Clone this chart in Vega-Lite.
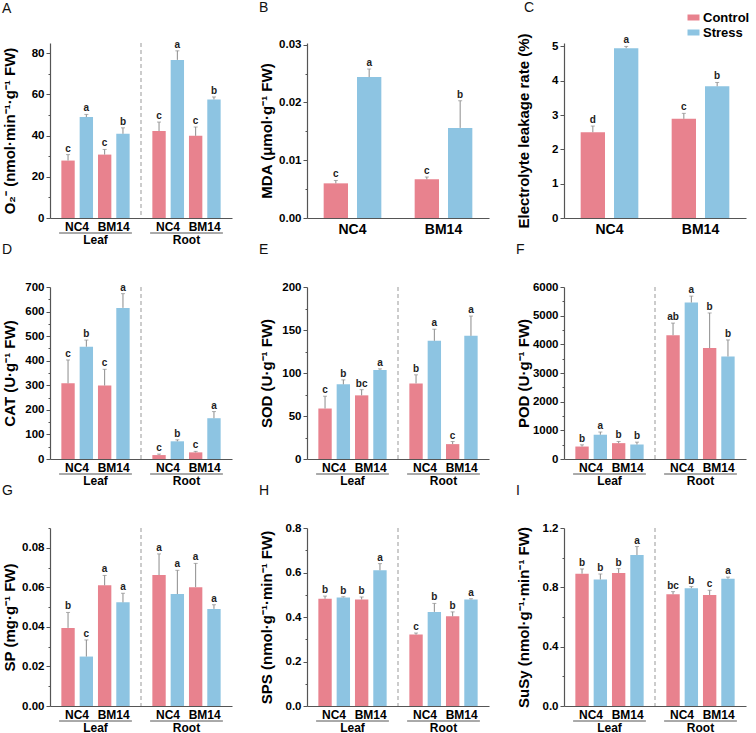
{
"$schema": "https://vega.github.io/schema/vega-lite/v6.json",
"background": "white",
"padding": {"left": 2, "top": 0, "right": 0, "bottom": 0},
"columns": 3,
"align": "each",
"bounds": "flush",
"spacing": {"row": 69, "column": 75},
"resolve": {"scale": {"color": "independent", "xOffset": "independent"}, "legend": {"color": "independent"}},
"config": {
  "view": {"stroke": null},
  "font": "Liberation Sans",
  "title": {"anchor": "start", "frame": "bounds", "fontSize": 14, "fontWeight": "normal", "offset": 24, "font": "Liberation Sans", "color": "#111"},
  "axis": {"labelFont": "Liberation Sans", "titleFont": "Liberation Sans", "labelFontWeight": "bold", "titleFontWeight": "bold", "labelColor": "#000", "titleColor": "#000", "domainColor": "#555", "tickColor": "#555", "grid": false, "domainWidth": 1.2, "labelOverlap": false},
  "axisY": {"titleFontSize": 15, "labelFontSize": 11.5, "titlePadding": 4, "minExtent": 29, "maxExtent": 29, "labelPadding": 2, "labelOverlap": false, "tickCount": 100},
  "axisX": {"title": null, "ticks": false, "labelAngle": 0, "labelFontSize": 12, "labelPadding": 16}
},
"datasets": {"d": [
{"p":"A","t":"Leaf","g":"NC4","tr":"Control","k":"NC4 Control","m":27.9,"u":30.8,"l":"c"},
{"p":"A","t":"Leaf","g":"NC4","tr":"Stress","k":"NC4 Stress","m":49.0,"u":50.3,"l":"a"},
{"p":"A","t":"Leaf","g":"BM14","tr":"Control","k":"BM14 Control","m":30.8,"u":33.3,"l":"c"},
{"p":"A","t":"Leaf","g":"BM14","tr":"Stress","k":"BM14 Stress","m":40.9,"u":43.8,"l":"b"},
{"p":"A","t":"Root","g":"NC4","tr":"Control","k":"NC4 Control","m":42.2,"u":46.6,"l":"c"},
{"p":"A","t":"Root","g":"NC4","tr":"Stress","k":"NC4 Stress","m":76.8,"u":81.2,"l":"a"},
{"p":"A","t":"Root","g":"BM14","tr":"Control","k":"BM14 Control","m":39.9,"u":44.2,"l":"c"},
{"p":"A","t":"Root","g":"BM14","tr":"Stress","k":"BM14 Stress","m":57.6,"u":58.8,"l":"b"},
{"p":"B","g":"NC4","tr":"Control","m":0.0060,"u":0.0065,"l":"c"},
{"p":"B","g":"NC4","tr":"Stress","m":0.0244,"u":0.0258,"l":"a"},
{"p":"B","g":"BM14","tr":"Control","m":0.0067,"u":0.0071,"l":"c"},
{"p":"B","g":"BM14","tr":"Stress","m":0.0156,"u":0.0203,"l":"b"},
{"p":"C","g":"NC4","tr":"Control","m":2.50,"u":2.68,"l":"d"},
{"p":"C","g":"NC4","tr":"Stress","m":4.95,"u":5.00,"l":"a"},
{"p":"C","g":"BM14","tr":"Control","m":2.89,"u":3.05,"l":"c"},
{"p":"C","g":"BM14","tr":"Stress","m":3.84,"u":3.95,"l":"b"},
{"p":"D","t":"Leaf","g":"NC4","tr":"Control","k":"NC4 Control","m":308,"u":403,"l":"c"},
{"p":"D","t":"Leaf","g":"NC4","tr":"Stress","k":"NC4 Stress","m":457,"u":484,"l":"b"},
{"p":"D","t":"Leaf","g":"BM14","tr":"Control","k":"BM14 Control","m":299,"u":365,"l":"c"},
{"p":"D","t":"Leaf","g":"BM14","tr":"Stress","k":"BM14 Stress","m":615,"u":673,"l":"a"},
{"p":"D","t":"Root","g":"NC4","tr":"Control","k":"NC4 Control","m":16,"u":20,"l":"c"},
{"p":"D","t":"Root","g":"NC4","tr":"Stress","k":"NC4 Stress","m":72,"u":78,"l":"b"},
{"p":"D","t":"Root","g":"BM14","tr":"Control","k":"BM14 Control","m":27,"u":31,"l":"c"},
{"p":"D","t":"Root","g":"BM14","tr":"Stress","k":"BM14 Stress","m":166,"u":193,"l":"a"},
{"p":"E","t":"Leaf","g":"NC4","tr":"Control","k":"NC4 Control","m":58.7,"u":73,"l":"c"},
{"p":"E","t":"Leaf","g":"NC4","tr":"Stress","k":"NC4 Stress","m":86.8,"u":92,"l":"b"},
{"p":"E","t":"Leaf","g":"BM14","tr":"Control","k":"BM14 Control","m":74,"u":80.6,"l":"bc"},
{"p":"E","t":"Leaf","g":"BM14","tr":"Stress","k":"BM14 Stress","m":103.6,"u":104.8,"l":"a"},
{"p":"E","t":"Root","g":"NC4","tr":"Control","k":"NC4 Control","m":87.9,"u":97.9,"l":"b"},
{"p":"E","t":"Root","g":"NC4","tr":"Stress","k":"NC4 Stress","m":137.4,"u":150.9,"l":"a"},
{"p":"E","t":"Root","g":"BM14","tr":"Control","k":"BM14 Control","m":17.3,"u":20.3,"l":"c"},
{"p":"E","t":"Root","g":"BM14","tr":"Stress","k":"BM14 Stress","m":143.2,"u":166.2,"l":"a"},
{"p":"F","t":"Leaf","g":"NC4","tr":"Control","k":"NC4 Control","m":435,"u":494,"l":"b"},
{"p":"F","t":"Leaf","g":"NC4","tr":"Stress","k":"NC4 Stress","m":847,"u":941,"l":"a"},
{"p":"F","t":"Leaf","g":"BM14","tr":"Control","k":"BM14 Control","m":553,"u":612,"l":"b"},
{"p":"F","t":"Leaf","g":"BM14","tr":"Stress","k":"BM14 Stress","m":506,"u":588,"l":"b"},
{"p":"F","t":"Root","g":"NC4","tr":"Control","k":"NC4 Control","m":4318,"u":4741,"l":"ab"},
{"p":"F","t":"Root","g":"NC4","tr":"Stress","k":"NC4 Stress","m":5459,"u":5682,"l":"a"},
{"p":"F","t":"Root","g":"BM14","tr":"Control","k":"BM14 Control","m":3871,"u":5094,"l":"b"},
{"p":"F","t":"Root","g":"BM14","tr":"Stress","k":"BM14 Stress","m":3576,"u":4153,"l":"b"},
{"p":"G","t":"Leaf","g":"NC4","tr":"Control","k":"NC4 Control","m":0.0395,"u":0.0473,"l":"b"},
{"p":"G","t":"Leaf","g":"NC4","tr":"Stress","k":"NC4 Stress","m":0.0250,"u":0.0334,"l":"c"},
{"p":"G","t":"Leaf","g":"BM14","tr":"Control","k":"BM14 Control","m":0.0610,"u":0.0660,"l":"a"},
{"p":"G","t":"Leaf","g":"BM14","tr":"Stress","k":"BM14 Stress","m":0.0524,"u":0.0570,"l":"a"},
{"p":"G","t":"Root","g":"NC4","tr":"Control","k":"NC4 Control","m":0.0662,"u":0.0769,"l":"a"},
{"p":"G","t":"Root","g":"NC4","tr":"Stress","k":"NC4 Stress","m":0.0566,"u":0.0686,"l":"a"},
{"p":"G","t":"Root","g":"BM14","tr":"Control","k":"BM14 Control","m":0.0601,"u":0.0721,"l":"a"},
{"p":"G","t":"Root","g":"BM14","tr":"Stress","k":"BM14 Stress","m":0.0491,"u":0.0512,"l":"a"},
{"p":"H","t":"Leaf","g":"NC4","tr":"Control","k":"NC4 Control","m":0.482,"u":0.494,"l":"b"},
{"p":"H","t":"Leaf","g":"NC4","tr":"Stress","k":"NC4 Stress","m":0.488,"u":0.491,"l":"b"},
{"p":"H","t":"Leaf","g":"BM14","tr":"Control","k":"BM14 Control","m":0.479,"u":0.490,"l":"b"},
{"p":"H","t":"Leaf","g":"BM14","tr":"Stress","k":"BM14 Stress","m":0.610,"u":0.640,"l":"a"},
{"p":"H","t":"Root","g":"NC4","tr":"Control","k":"NC4 Control","m":0.321,"u":0.328,"l":"c"},
{"p":"H","t":"Root","g":"NC4","tr":"Stress","k":"NC4 Stress","m":0.423,"u":0.461,"l":"b"},
{"p":"H","t":"Root","g":"BM14","tr":"Control","k":"BM14 Control","m":0.403,"u":0.423,"l":"b"},
{"p":"H","t":"Root","g":"BM14","tr":"Stress","k":"BM14 Stress","m":0.479,"u":0.482,"l":"a"},
{"p":"I","t":"Leaf","g":"NC4","tr":"Control","k":"NC4 Control","m":0.892,"u":0.924,"l":"b"},
{"p":"I","t":"Leaf","g":"NC4","tr":"Stress","k":"NC4 Stress","m":0.853,"u":0.890,"l":"b"},
{"p":"I","t":"Leaf","g":"BM14","tr":"Control","k":"BM14 Control","m":0.897,"u":0.926,"l":"b"},
{"p":"I","t":"Leaf","g":"BM14","tr":"Stress","k":"BM14 Stress","m":1.018,"u":1.075,"l":"a"},
{"p":"I","t":"Root","g":"NC4","tr":"Control","k":"NC4 Control","m":0.753,"u":0.771,"l":"bc"},
{"p":"I","t":"Root","g":"NC4","tr":"Stress","k":"NC4 Stress","m":0.794,"u":0.805,"l":"b"},
{"p":"I","t":"Root","g":"BM14","tr":"Control","k":"BM14 Control","m":0.748,"u":0.780,"l":"c"},
{"p":"I","t":"Root","g":"BM14","tr":"Stress","k":"BM14 Stress","m":0.858,"u":0.869,"l":"a"}
]},
"concat": [
{
 "width": 182, "height": 175, "title": {"text": "A"},
 "data": {"name": "d"}, "transform": [{"filter": "datum.p == 'A'"}],
 "layer": [
  {"mark": {"type": "bar"}, "encoding": {
    "x": {"field": "t", "type": "nominal", "scale": {"domain": ["Leaf","Root"], "paddingInner": 0, "paddingOuter": 0}},
    "xOffset": {"field": "k", "type": "nominal", "scale": {"domain": ["NC4 Control","NC4 Stress","BM14 Control","BM14 Stress"], "paddingInner": 0.27, "paddingOuter": 0.62}},
    "y": {"field": "m", "type": "quantitative", "scale": {"domain": [0, 85], "nice": false},
      "axis": {"title": "O₂⁻ (nmol·min⁻¹·g⁻¹ FW)", "tickCount": 100, "labelOverlap": false, "values": [0,10,20,30,40,50,60,70,80], "format": "d", "labelExpr": "datum.value % 20 == 0 ? datum.label : ''", "tickSize": {"condition": {"test": "datum.value % 20 == 0", "value": 4}, "value": 2}}},
    "color": {"field": "tr", "type": "nominal", "scale": {"domain": ["Control","Stress"], "range": ["#E8828E","#8DC4E2"]}, "legend": null}}},
  {"mark": {"type": "rule", "color": "#8c8c8c"}, "encoding": {"x": {"field": "t", "type": "nominal"}, "xOffset": {"field": "k", "type": "nominal"}, "y": {"field": "m", "type": "quantitative"}, "y2": {"field": "u"}}},
  {"mark": {"type": "tick", "orient": "horizontal", "size": 4, "thickness": 1, "color": "#8c8c8c"}, "encoding": {"x": {"field": "t", "type": "nominal"}, "xOffset": {"field": "k", "type": "nominal"}, "y": {"field": "u", "type": "quantitative"}}},
  {"mark": {"type": "text", "dy": -3, "baseline": "alphabetic", "fontSize": 10, "fontWeight": "bold", "color": "#222"}, "encoding": {"x": {"field": "t", "type": "nominal"}, "xOffset": {"field": "k", "type": "nominal"}, "y": {"field": "u", "type": "quantitative"}, "text": {"field": "l"}}},
  {"transform": [{"filter": "datum.k == 'NC4 Control' && datum.t == 'Leaf'"}], "mark": {"type": "rule", "strokeDash": [4,3], "color": "#999"}, "encoding": {"x": {"datum": "Root", "type": "nominal", "bandPosition": 0}}},
  {"transform": [{"filter": "datum.tr == 'Control'"}], "mark": {"type": "text", "dx": 9, "dy": 13, "baseline": "alphabetic", "fontSize": 12, "fontWeight": "bold"}, "encoding": {"x": {"field": "t", "type": "nominal"}, "xOffset": {"field": "k", "type": "nominal"}, "y": {"datum": 0}, "text": {"field": "g"}}},
  {"transform": [{"filter": "datum.k == 'NC4 Control'"}], "mark": {"type": "rule", "yOffset": 15, "color": "#555"}, "encoding": {"x": {"field": "t", "type": "nominal", "bandPosition": 0.1}, "x2": {"field": "t", "bandPosition": 0.9}, "y": {"datum": 0}}}
 ]
},
{
 "width": 182, "height": 175, "title": {"text": "B"},
 "data": {"name": "d"}, "transform": [{"filter": "datum.p == 'B'"}],
 "layer": [
  {"mark": {"type": "bar"}, "encoding": {
    "x": {"field": "g", "type": "nominal", "scale": {"domain": ["NC4","BM14"], "paddingInner": 0, "paddingOuter": 0}, "axis": {"labelFontSize": 14, "labelPadding": 4}},
    "xOffset": {"field": "tr", "type": "nominal", "scale": {"domain": ["Control","Stress"], "paddingInner": 0.27, "paddingOuter": 0.5}},
    "y": {"field": "m", "type": "quantitative", "scale": {"domain": [0, 0.0303], "nice": false},
      "axis": {"title": "MDA (μmol·g⁻¹ FW)", "tickCount": 100, "labelOverlap": false, "values": [0,0.005,0.01,0.015,0.02,0.025,0.03], "format": ".2f", "labelExpr": "round(datum.value*1000) % 10 == 0 ? datum.label : ''", "tickSize": {"condition": {"test": "round(datum.value*1000) % 10 == 0", "value": 4}, "value": 2}}},
    "color": {"field": "tr", "type": "nominal", "scale": {"domain": ["Control","Stress"], "range": ["#E8828E","#8DC4E2"]}, "legend": null}}},
  {"mark": {"type": "rule", "color": "#8c8c8c"}, "encoding": {"x": {"field": "g", "type": "nominal"}, "xOffset": {"field": "tr", "type": "nominal"}, "y": {"field": "m", "type": "quantitative"}, "y2": {"field": "u"}}},
  {"mark": {"type": "tick", "orient": "horizontal", "size": 4, "thickness": 1, "color": "#8c8c8c"}, "encoding": {"x": {"field": "g", "type": "nominal"}, "xOffset": {"field": "tr", "type": "nominal"}, "y": {"field": "u", "type": "quantitative"}}},
  {"mark": {"type": "text", "dy": -3, "baseline": "alphabetic", "fontSize": 10, "fontWeight": "bold", "color": "#222"}, "encoding": {"x": {"field": "g", "type": "nominal"}, "xOffset": {"field": "tr", "type": "nominal"}, "y": {"field": "u", "type": "quantitative"}, "text": {"field": "l"}}}
 ]
},
{
 "width": 182, "height": 175, "title": {"text": "C", "offset": -4, "dx": 8},
 "data": {"name": "d"}, "transform": [{"filter": "datum.p == 'C'"}],
 "layer": [
  {"mark": {"type": "bar"}, "encoding": {
    "x": {"field": "g", "type": "nominal", "scale": {"domain": ["NC4","BM14"], "paddingInner": 0, "paddingOuter": 0}, "axis": {"labelFontSize": 14, "labelPadding": 4}},
    "xOffset": {"field": "tr", "type": "nominal", "scale": {"domain": ["Control","Stress"], "paddingInner": 0.27, "paddingOuter": 0.5}},
    "y": {"field": "m", "type": "quantitative", "scale": {"domain": [0, 5.1], "nice": false},
      "axis": {"title": "Electrolyte leakage rate (%)", "tickCount": 100, "labelOverlap": false, "values": [0,0.5,1,1.5,2,2.5,3,3.5,4,4.5,5], "format": "d", "labelExpr": "datum.value % 1 == 0 ? datum.label : ''", "tickSize": {"condition": {"test": "datum.value % 1 == 0", "value": 4}, "value": 2}}},
    "color": {"field": "tr", "type": "nominal", "scale": {"domain": ["Control","Stress"], "range": ["#E8828E","#8DC4E2"]},
      "legend": {"title": null, "orient": "none", "legendX": 123, "legendY": -32, "symbolType": "M-1,-0.5H1V0.5H-1Z", "symbolSize": 144, "symbolStrokeWidth": 0, "labelFontSize": 13, "labelFontWeight": "bold", "labelFont": "Liberation Sans", "labelColor": "#000", "rowPadding": 1, "labelOffset": 3}}}},
  {"mark": {"type": "rule", "color": "#8c8c8c"}, "encoding": {"x": {"field": "g", "type": "nominal"}, "xOffset": {"field": "tr", "type": "nominal"}, "y": {"field": "m", "type": "quantitative"}, "y2": {"field": "u"}}},
  {"mark": {"type": "tick", "orient": "horizontal", "size": 4, "thickness": 1, "color": "#8c8c8c"}, "encoding": {"x": {"field": "g", "type": "nominal"}, "xOffset": {"field": "tr", "type": "nominal"}, "y": {"field": "u", "type": "quantitative"}}},
  {"mark": {"type": "text", "dy": -3, "baseline": "alphabetic", "fontSize": 10, "fontWeight": "bold", "color": "#222"}, "encoding": {"x": {"field": "g", "type": "nominal"}, "xOffset": {"field": "tr", "type": "nominal"}, "y": {"field": "u", "type": "quantitative"}, "text": {"field": "l"}}}
 ]
},
{
 "width": 182, "height": 172, "title": {"text": "D"},
 "data": {"name": "d"}, "transform": [{"filter": "datum.p == 'D'"}],
 "layer": [
  {"mark": {"type": "bar"}, "encoding": {
    "x": {"field": "t", "type": "nominal", "scale": {"domain": ["Leaf","Root"], "paddingInner": 0, "paddingOuter": 0}},
    "xOffset": {"field": "k", "type": "nominal", "scale": {"domain": ["NC4 Control","NC4 Stress","BM14 Control","BM14 Stress"], "paddingInner": 0.27, "paddingOuter": 0.62}},
    "y": {"field": "m", "type": "quantitative", "scale": {"domain": [0, 700], "nice": false},
      "axis": {"title": "CAT (U·g⁻¹ FW)", "tickCount": 100, "labelOverlap": false, "values": [0,50,100,150,200,250,300,350,400,450,500,550,600,650,700], "format": "d", "labelExpr": "datum.value % 100 == 0 ? datum.label : ''", "tickSize": {"condition": {"test": "datum.value % 100 == 0", "value": 4}, "value": 2}}},
    "color": {"field": "tr", "type": "nominal", "scale": {"domain": ["Control","Stress"], "range": ["#E8828E","#8DC4E2"]}, "legend": null}}},
  {"mark": {"type": "rule", "color": "#8c8c8c"}, "encoding": {"x": {"field": "t", "type": "nominal"}, "xOffset": {"field": "k", "type": "nominal"}, "y": {"field": "m", "type": "quantitative"}, "y2": {"field": "u"}}},
  {"mark": {"type": "tick", "orient": "horizontal", "size": 4, "thickness": 1, "color": "#8c8c8c"}, "encoding": {"x": {"field": "t", "type": "nominal"}, "xOffset": {"field": "k", "type": "nominal"}, "y": {"field": "u", "type": "quantitative"}}},
  {"mark": {"type": "text", "dy": -3, "baseline": "alphabetic", "fontSize": 10, "fontWeight": "bold", "color": "#222"}, "encoding": {"x": {"field": "t", "type": "nominal"}, "xOffset": {"field": "k", "type": "nominal"}, "y": {"field": "u", "type": "quantitative"}, "text": {"field": "l"}}},
  {"transform": [{"filter": "datum.k == 'NC4 Control' && datum.t == 'Leaf'"}], "mark": {"type": "rule", "strokeDash": [4,3], "color": "#999"}, "encoding": {"x": {"datum": "Root", "type": "nominal", "bandPosition": 0}}},
  {"transform": [{"filter": "datum.tr == 'Control'"}], "mark": {"type": "text", "dx": 9, "dy": 13, "baseline": "alphabetic", "fontSize": 12, "fontWeight": "bold"}, "encoding": {"x": {"field": "t", "type": "nominal"}, "xOffset": {"field": "k", "type": "nominal"}, "y": {"datum": 0}, "text": {"field": "g"}}},
  {"transform": [{"filter": "datum.k == 'NC4 Control'"}], "mark": {"type": "rule", "yOffset": 15, "color": "#555"}, "encoding": {"x": {"field": "t", "type": "nominal", "bandPosition": 0.1}, "x2": {"field": "t", "bandPosition": 0.9}, "y": {"datum": 0}}}
 ]
},
{
 "width": 182, "height": 172, "title": {"text": "E"},
 "data": {"name": "d"}, "transform": [{"filter": "datum.p == 'E'"}],
 "layer": [
  {"mark": {"type": "bar"}, "encoding": {
    "x": {"field": "t", "type": "nominal", "scale": {"domain": ["Leaf","Root"], "paddingInner": 0, "paddingOuter": 0}},
    "xOffset": {"field": "k", "type": "nominal", "scale": {"domain": ["NC4 Control","NC4 Stress","BM14 Control","BM14 Stress"], "paddingInner": 0.27, "paddingOuter": 0.62}},
    "y": {"field": "m", "type": "quantitative", "scale": {"domain": [0, 200], "nice": false},
      "axis": {"title": "SOD (U·g⁻¹ FW)", "tickCount": 100, "labelOverlap": false, "values": [0,25,50,75,100,125,150,175,200], "format": "d", "labelExpr": "datum.value % 50 == 0 ? datum.label : ''", "tickSize": {"condition": {"test": "datum.value % 50 == 0", "value": 4}, "value": 2}}},
    "color": {"field": "tr", "type": "nominal", "scale": {"domain": ["Control","Stress"], "range": ["#E8828E","#8DC4E2"]}, "legend": null}}},
  {"mark": {"type": "rule", "color": "#8c8c8c"}, "encoding": {"x": {"field": "t", "type": "nominal"}, "xOffset": {"field": "k", "type": "nominal"}, "y": {"field": "m", "type": "quantitative"}, "y2": {"field": "u"}}},
  {"mark": {"type": "tick", "orient": "horizontal", "size": 4, "thickness": 1, "color": "#8c8c8c"}, "encoding": {"x": {"field": "t", "type": "nominal"}, "xOffset": {"field": "k", "type": "nominal"}, "y": {"field": "u", "type": "quantitative"}}},
  {"mark": {"type": "text", "dy": -3, "baseline": "alphabetic", "fontSize": 10, "fontWeight": "bold", "color": "#222"}, "encoding": {"x": {"field": "t", "type": "nominal"}, "xOffset": {"field": "k", "type": "nominal"}, "y": {"field": "u", "type": "quantitative"}, "text": {"field": "l"}}},
  {"transform": [{"filter": "datum.k == 'NC4 Control' && datum.t == 'Leaf'"}], "mark": {"type": "rule", "strokeDash": [4,3], "color": "#999"}, "encoding": {"x": {"datum": "Root", "type": "nominal", "bandPosition": 0}}},
  {"transform": [{"filter": "datum.tr == 'Control'"}], "mark": {"type": "text", "dx": 9, "dy": 13, "baseline": "alphabetic", "fontSize": 12, "fontWeight": "bold"}, "encoding": {"x": {"field": "t", "type": "nominal"}, "xOffset": {"field": "k", "type": "nominal"}, "y": {"datum": 0}, "text": {"field": "g"}}},
  {"transform": [{"filter": "datum.k == 'NC4 Control'"}], "mark": {"type": "rule", "yOffset": 15, "color": "#555"}, "encoding": {"x": {"field": "t", "type": "nominal", "bandPosition": 0.1}, "x2": {"field": "t", "bandPosition": 0.9}, "y": {"datum": 0}}}
 ]
},
{
 "width": 182, "height": 172, "title": {"text": "F"},
 "data": {"name": "d"}, "transform": [{"filter": "datum.p == 'F'"}],
 "layer": [
  {"mark": {"type": "bar"}, "encoding": {
    "x": {"field": "t", "type": "nominal", "scale": {"domain": ["Leaf","Root"], "paddingInner": 0, "paddingOuter": 0}},
    "xOffset": {"field": "k", "type": "nominal", "scale": {"domain": ["NC4 Control","NC4 Stress","BM14 Control","BM14 Stress"], "paddingInner": 0.27, "paddingOuter": 0.62}},
    "y": {"field": "m", "type": "quantitative", "scale": {"domain": [0, 6000], "nice": false},
      "axis": {"title": "POD (U·g⁻¹ FW)", "tickCount": 100, "labelOverlap": false, "values": [0,500,1000,1500,2000,2500,3000,3500,4000,4500,5000,5500,6000], "format": "d", "labelExpr": "datum.value % 1000 == 0 ? datum.label : ''", "tickSize": {"condition": {"test": "datum.value % 1000 == 0", "value": 4}, "value": 2}}},
    "color": {"field": "tr", "type": "nominal", "scale": {"domain": ["Control","Stress"], "range": ["#E8828E","#8DC4E2"]}, "legend": null}}},
  {"mark": {"type": "rule", "color": "#8c8c8c"}, "encoding": {"x": {"field": "t", "type": "nominal"}, "xOffset": {"field": "k", "type": "nominal"}, "y": {"field": "m", "type": "quantitative"}, "y2": {"field": "u"}}},
  {"mark": {"type": "tick", "orient": "horizontal", "size": 4, "thickness": 1, "color": "#8c8c8c"}, "encoding": {"x": {"field": "t", "type": "nominal"}, "xOffset": {"field": "k", "type": "nominal"}, "y": {"field": "u", "type": "quantitative"}}},
  {"mark": {"type": "text", "dy": -3, "baseline": "alphabetic", "fontSize": 10, "fontWeight": "bold", "color": "#222"}, "encoding": {"x": {"field": "t", "type": "nominal"}, "xOffset": {"field": "k", "type": "nominal"}, "y": {"field": "u", "type": "quantitative"}, "text": {"field": "l"}}},
  {"transform": [{"filter": "datum.k == 'NC4 Control' && datum.t == 'Leaf'"}], "mark": {"type": "rule", "strokeDash": [4,3], "color": "#999"}, "encoding": {"x": {"datum": "Root", "type": "nominal", "bandPosition": 0}}},
  {"transform": [{"filter": "datum.tr == 'Control'"}], "mark": {"type": "text", "dx": 9, "dy": 13, "baseline": "alphabetic", "fontSize": 12, "fontWeight": "bold"}, "encoding": {"x": {"field": "t", "type": "nominal"}, "xOffset": {"field": "k", "type": "nominal"}, "y": {"datum": 0}, "text": {"field": "g"}}},
  {"transform": [{"filter": "datum.k == 'NC4 Control'"}], "mark": {"type": "rule", "yOffset": 15, "color": "#555"}, "encoding": {"x": {"field": "t", "type": "nominal", "bandPosition": 0.1}, "x2": {"field": "t", "bandPosition": 0.9}, "y": {"datum": 0}}}
 ]
},
{
 "width": 182, "height": 178, "title": {"text": "G"},
 "data": {"name": "d"}, "transform": [{"filter": "datum.p == 'G'"}],
 "layer": [
  {"mark": {"type": "bar"}, "encoding": {
    "x": {"field": "t", "type": "nominal", "scale": {"domain": ["Leaf","Root"], "paddingInner": 0, "paddingOuter": 0}},
    "xOffset": {"field": "k", "type": "nominal", "scale": {"domain": ["NC4 Control","NC4 Stress","BM14 Control","BM14 Stress"], "paddingInner": 0.27, "paddingOuter": 0.62}},
    "y": {"field": "m", "type": "quantitative", "scale": {"domain": [0, 0.09], "nice": false},
      "axis": {"title": "SP (mg·g⁻¹ FW)", "tickCount": 100, "labelOverlap": false, "values": [0,0.01,0.02,0.03,0.04,0.05,0.06,0.07,0.08,0.09], "format": ".2f", "labelExpr": "round(datum.value*100) % 2 == 0 ? datum.label : ''", "tickSize": {"condition": {"test": "round(datum.value*100) % 2 == 0", "value": 4}, "value": 2}}},
    "color": {"field": "tr", "type": "nominal", "scale": {"domain": ["Control","Stress"], "range": ["#E8828E","#8DC4E2"]}, "legend": null}}},
  {"mark": {"type": "rule", "color": "#8c8c8c"}, "encoding": {"x": {"field": "t", "type": "nominal"}, "xOffset": {"field": "k", "type": "nominal"}, "y": {"field": "m", "type": "quantitative"}, "y2": {"field": "u"}}},
  {"mark": {"type": "tick", "orient": "horizontal", "size": 4, "thickness": 1, "color": "#8c8c8c"}, "encoding": {"x": {"field": "t", "type": "nominal"}, "xOffset": {"field": "k", "type": "nominal"}, "y": {"field": "u", "type": "quantitative"}}},
  {"mark": {"type": "text", "dy": -3, "baseline": "alphabetic", "fontSize": 10, "fontWeight": "bold", "color": "#222"}, "encoding": {"x": {"field": "t", "type": "nominal"}, "xOffset": {"field": "k", "type": "nominal"}, "y": {"field": "u", "type": "quantitative"}, "text": {"field": "l"}}},
  {"transform": [{"filter": "datum.k == 'NC4 Control' && datum.t == 'Leaf'"}], "mark": {"type": "rule", "strokeDash": [4,3], "color": "#999"}, "encoding": {"x": {"datum": "Root", "type": "nominal", "bandPosition": 0}}},
  {"transform": [{"filter": "datum.tr == 'Control'"}], "mark": {"type": "text", "dx": 9, "dy": 13, "baseline": "alphabetic", "fontSize": 12, "fontWeight": "bold"}, "encoding": {"x": {"field": "t", "type": "nominal"}, "xOffset": {"field": "k", "type": "nominal"}, "y": {"datum": 0}, "text": {"field": "g"}}},
  {"transform": [{"filter": "datum.k == 'NC4 Control'"}], "mark": {"type": "rule", "yOffset": 15, "color": "#555"}, "encoding": {"x": {"field": "t", "type": "nominal", "bandPosition": 0.1}, "x2": {"field": "t", "bandPosition": 0.9}, "y": {"datum": 0}}}
 ]
},
{
 "width": 182, "height": 178, "title": {"text": "H"},
 "data": {"name": "d"}, "transform": [{"filter": "datum.p == 'H'"}],
 "layer": [
  {"mark": {"type": "bar"}, "encoding": {
    "x": {"field": "t", "type": "nominal", "scale": {"domain": ["Leaf","Root"], "paddingInner": 0, "paddingOuter": 0}},
    "xOffset": {"field": "k", "type": "nominal", "scale": {"domain": ["NC4 Control","NC4 Stress","BM14 Control","BM14 Stress"], "paddingInner": 0.27, "paddingOuter": 0.62}},
    "y": {"field": "m", "type": "quantitative", "scale": {"domain": [0, 0.8], "nice": false},
      "axis": {"title": "SPS (nmol·g⁻¹·min⁻¹ FW)", "tickCount": 100, "labelOverlap": false, "values": [0,0.1,0.2,0.3,0.4,0.5,0.6,0.7,0.8], "format": ".1f", "labelExpr": "round(datum.value*10) % 2 == 0 ? datum.label : ''", "tickSize": {"condition": {"test": "round(datum.value*10) % 2 == 0", "value": 4}, "value": 2}}},
    "color": {"field": "tr", "type": "nominal", "scale": {"domain": ["Control","Stress"], "range": ["#E8828E","#8DC4E2"]}, "legend": null}}},
  {"mark": {"type": "rule", "color": "#8c8c8c"}, "encoding": {"x": {"field": "t", "type": "nominal"}, "xOffset": {"field": "k", "type": "nominal"}, "y": {"field": "m", "type": "quantitative"}, "y2": {"field": "u"}}},
  {"mark": {"type": "tick", "orient": "horizontal", "size": 4, "thickness": 1, "color": "#8c8c8c"}, "encoding": {"x": {"field": "t", "type": "nominal"}, "xOffset": {"field": "k", "type": "nominal"}, "y": {"field": "u", "type": "quantitative"}}},
  {"mark": {"type": "text", "dy": -3, "baseline": "alphabetic", "fontSize": 10, "fontWeight": "bold", "color": "#222"}, "encoding": {"x": {"field": "t", "type": "nominal"}, "xOffset": {"field": "k", "type": "nominal"}, "y": {"field": "u", "type": "quantitative"}, "text": {"field": "l"}}},
  {"transform": [{"filter": "datum.k == 'NC4 Control' && datum.t == 'Leaf'"}], "mark": {"type": "rule", "strokeDash": [4,3], "color": "#999"}, "encoding": {"x": {"datum": "Root", "type": "nominal", "bandPosition": 0}}},
  {"transform": [{"filter": "datum.tr == 'Control'"}], "mark": {"type": "text", "dx": 9, "dy": 13, "baseline": "alphabetic", "fontSize": 12, "fontWeight": "bold"}, "encoding": {"x": {"field": "t", "type": "nominal"}, "xOffset": {"field": "k", "type": "nominal"}, "y": {"datum": 0}, "text": {"field": "g"}}},
  {"transform": [{"filter": "datum.k == 'NC4 Control'"}], "mark": {"type": "rule", "yOffset": 15, "color": "#555"}, "encoding": {"x": {"field": "t", "type": "nominal", "bandPosition": 0.1}, "x2": {"field": "t", "bandPosition": 0.9}, "y": {"datum": 0}}}
 ]
},
{
 "width": 182, "height": 178, "title": {"text": "I"},
 "data": {"name": "d"}, "transform": [{"filter": "datum.p == 'I'"}],
 "layer": [
  {"mark": {"type": "bar"}, "encoding": {
    "x": {"field": "t", "type": "nominal", "scale": {"domain": ["Leaf","Root"], "paddingInner": 0, "paddingOuter": 0}},
    "xOffset": {"field": "k", "type": "nominal", "scale": {"domain": ["NC4 Control","NC4 Stress","BM14 Control","BM14 Stress"], "paddingInner": 0.27, "paddingOuter": 0.62}},
    "y": {"field": "m", "type": "quantitative", "scale": {"domain": [0, 1.2], "nice": false},
      "axis": {"title": "SuSy (nmol·g⁻¹·min⁻¹ FW)", "tickCount": 100, "labelOverlap": false, "values": [0,0.2,0.4,0.6,0.8,1.0,1.2], "format": ".1f", "labelExpr": "round(datum.value*10) % 4 == 0 ? datum.label : ''", "tickSize": {"condition": {"test": "round(datum.value*10) % 4 == 0", "value": 4}, "value": 2}}},
    "color": {"field": "tr", "type": "nominal", "scale": {"domain": ["Control","Stress"], "range": ["#E8828E","#8DC4E2"]}, "legend": null}}},
  {"mark": {"type": "rule", "color": "#8c8c8c"}, "encoding": {"x": {"field": "t", "type": "nominal"}, "xOffset": {"field": "k", "type": "nominal"}, "y": {"field": "m", "type": "quantitative"}, "y2": {"field": "u"}}},
  {"mark": {"type": "tick", "orient": "horizontal", "size": 4, "thickness": 1, "color": "#8c8c8c"}, "encoding": {"x": {"field": "t", "type": "nominal"}, "xOffset": {"field": "k", "type": "nominal"}, "y": {"field": "u", "type": "quantitative"}}},
  {"mark": {"type": "text", "dy": -3, "baseline": "alphabetic", "fontSize": 10, "fontWeight": "bold", "color": "#222"}, "encoding": {"x": {"field": "t", "type": "nominal"}, "xOffset": {"field": "k", "type": "nominal"}, "y": {"field": "u", "type": "quantitative"}, "text": {"field": "l"}}},
  {"transform": [{"filter": "datum.k == 'NC4 Control' && datum.t == 'Leaf'"}], "mark": {"type": "rule", "strokeDash": [4,3], "color": "#999"}, "encoding": {"x": {"datum": "Root", "type": "nominal", "bandPosition": 0}}},
  {"transform": [{"filter": "datum.tr == 'Control'"}], "mark": {"type": "text", "dx": 9, "dy": 13, "baseline": "alphabetic", "fontSize": 12, "fontWeight": "bold"}, "encoding": {"x": {"field": "t", "type": "nominal"}, "xOffset": {"field": "k", "type": "nominal"}, "y": {"datum": 0}, "text": {"field": "g"}}},
  {"transform": [{"filter": "datum.k == 'NC4 Control'"}], "mark": {"type": "rule", "yOffset": 15, "color": "#555"}, "encoding": {"x": {"field": "t", "type": "nominal", "bandPosition": 0.1}, "x2": {"field": "t", "bandPosition": 0.9}, "y": {"datum": 0}}}
 ]
}
]
}
